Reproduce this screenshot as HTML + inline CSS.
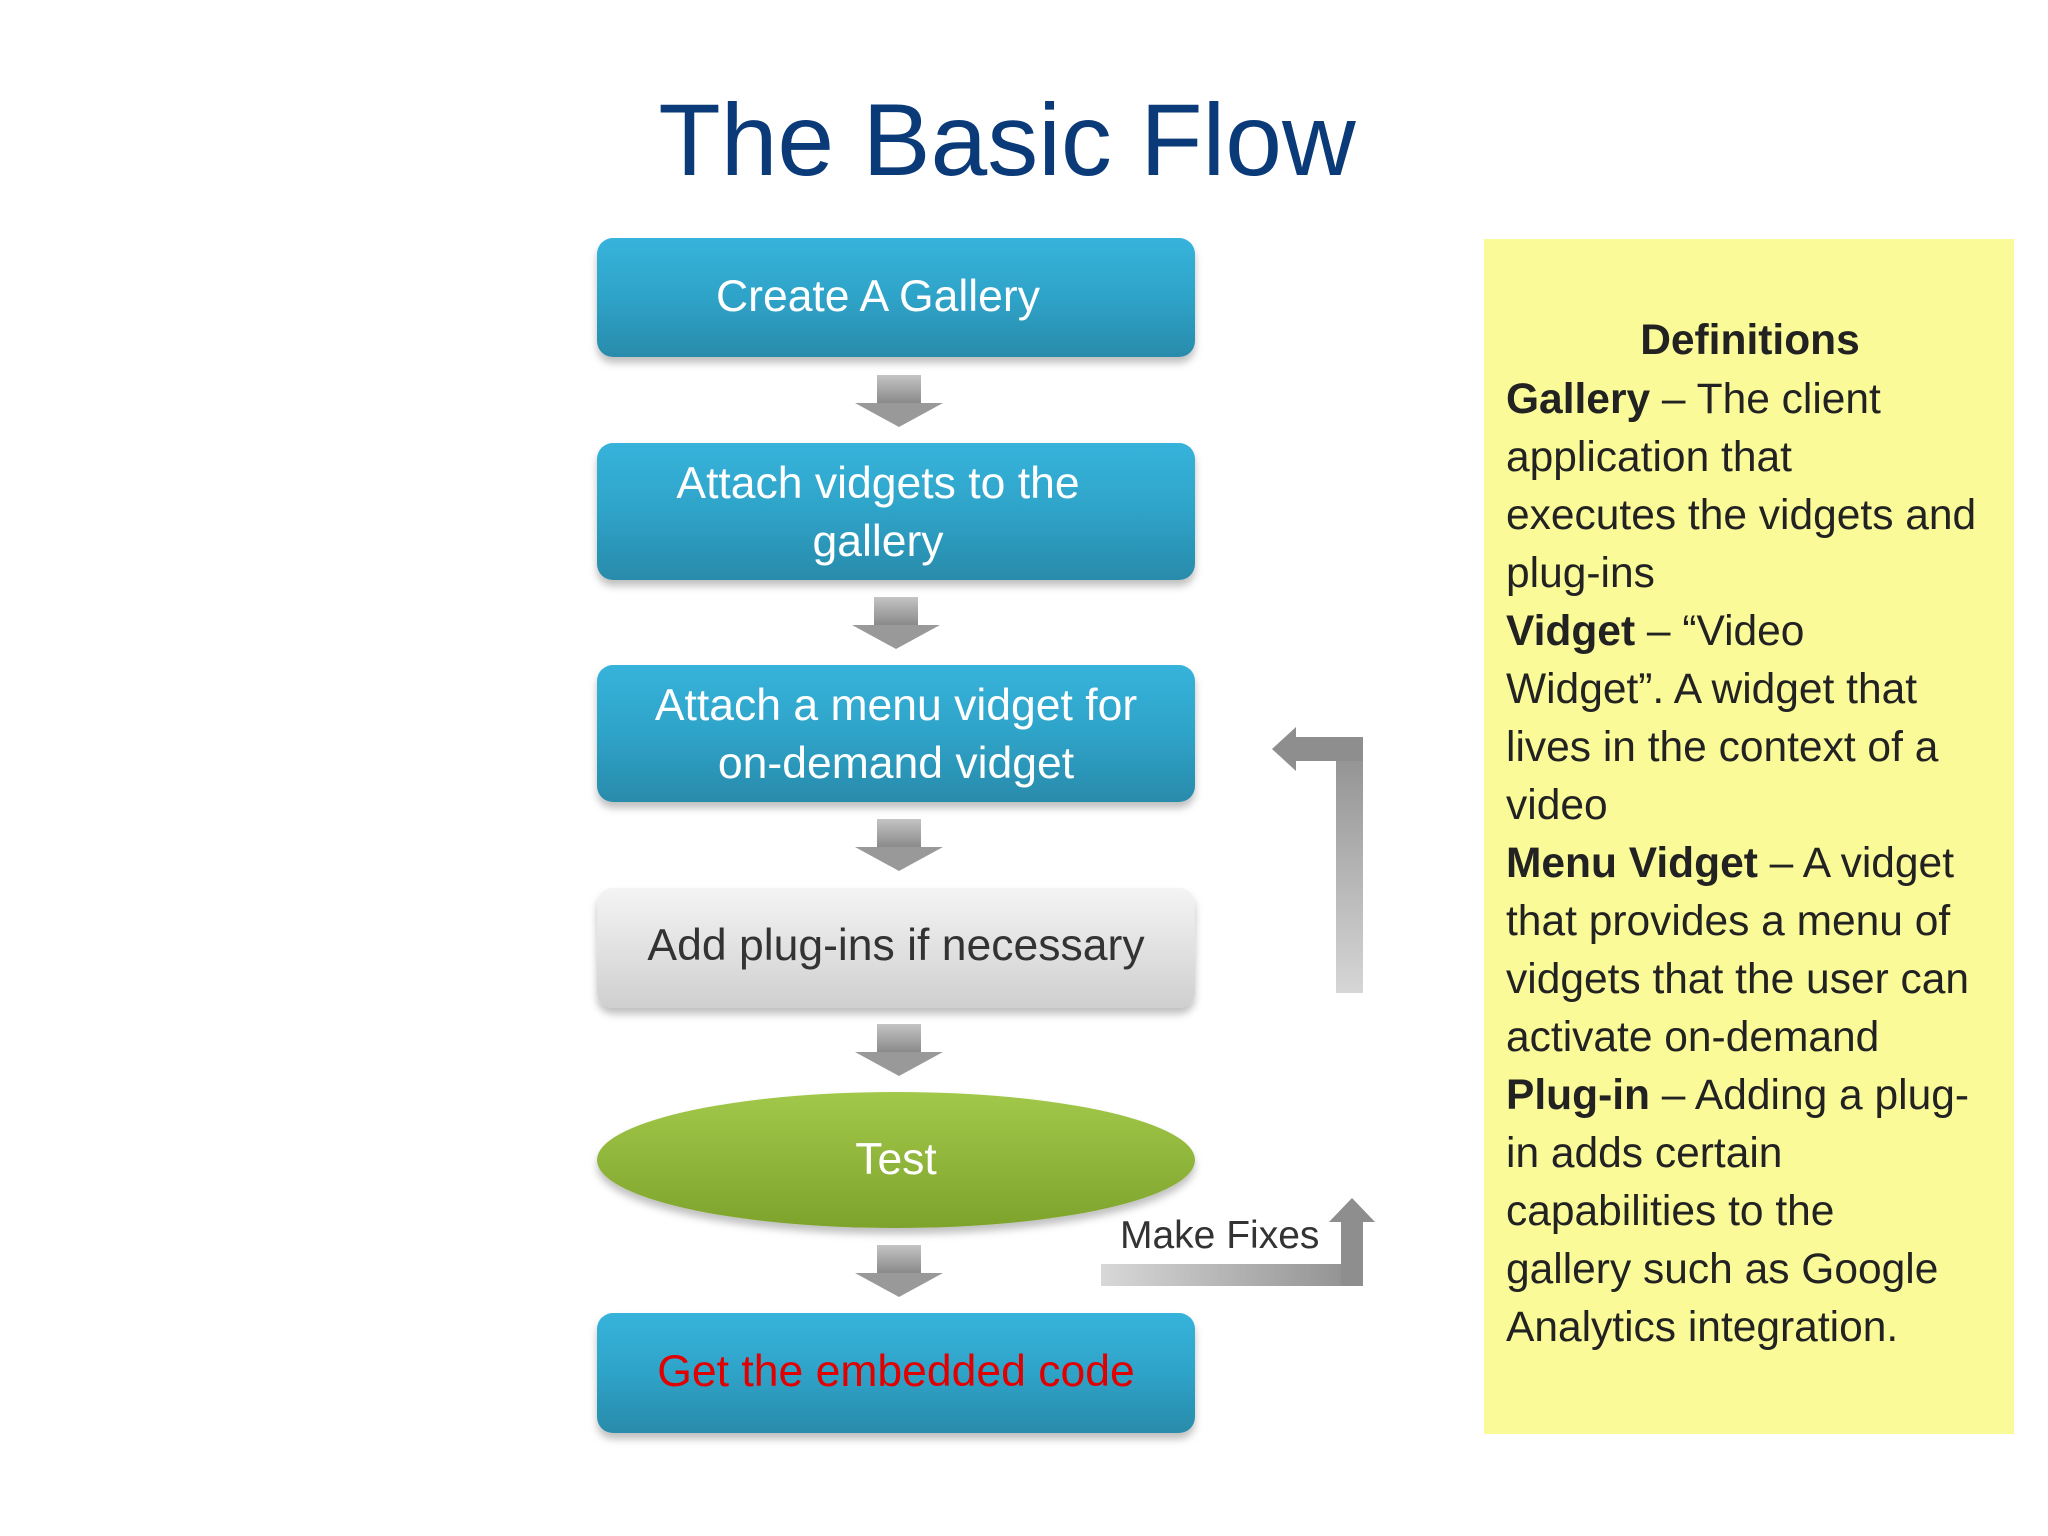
<!DOCTYPE html>
<html><head><meta charset="utf-8"><style>
html,body{margin:0;padding:0;background:#fff}
svg{display:block}
text{font-family:"Liberation Sans",sans-serif}
</style></head><body>
<svg width="2048" height="1536" viewBox="0 0 2048 1536" xmlns="http://www.w3.org/2000/svg">
<defs>
<linearGradient id="bl" x1="0" y1="0" x2="0" y2="1"><stop offset="0" stop-color="#37b3db"/><stop offset="0.5" stop-color="#2ea3c8"/><stop offset="1" stop-color="#2a8bab"/></linearGradient>
<linearGradient id="gr" x1="0" y1="0" x2="0" y2="1"><stop offset="0" stop-color="#f4f4f4"/><stop offset="1" stop-color="#cfcfcf"/></linearGradient>
<linearGradient id="gn" x1="0" y1="0" x2="0" y2="1"><stop offset="0" stop-color="#a2c84a"/><stop offset="1" stop-color="#7ea32c"/></linearGradient>
<linearGradient id="ar" x1="0" y1="0" x2="0" y2="1"><stop offset="0" stop-color="#c4c4c4"/><stop offset="1" stop-color="#8a8a8a"/></linearGradient>
<linearGradient id="vb" x1="0" y1="0" x2="0" y2="1"><stop offset="0" stop-color="#8e8e8e"/><stop offset="1" stop-color="#d6d6d6"/></linearGradient>
<linearGradient id="hb" x1="0" y1="0" x2="1" y2="0"><stop offset="0" stop-color="#d8d8d8"/><stop offset="1" stop-color="#8e8e8e"/></linearGradient>
<filter id="sh" x="-5%" y="-10%" width="110%" height="130%"><feDropShadow dx="0" dy="6" stdDeviation="4" flood-color="#000" flood-opacity="0.25"/></filter>
<g id="dn"><rect x="-22" y="0" width="44" height="28" fill="url(#ar)"/><polygon points="-44,28 44,28 0,52" fill="#999"/></g>
</defs>

<text x="1007" y="175" font-size="102" fill="#0a3a78" text-anchor="middle">The Basic Flow</text>

<rect x="597" y="238" width="598" height="119" rx="16" fill="url(#bl)" filter="url(#sh)"/>
<text x="878" y="311" font-size="44.5" fill="#fff" text-anchor="middle">Create A Gallery</text>

<use href="#dn" x="899" y="375"/>

<rect x="597" y="443" width="598" height="137" rx="16" fill="url(#bl)" filter="url(#sh)"/>
<text x="878" y="498" font-size="44.5" fill="#fff" text-anchor="middle">Attach vidgets to the</text>
<text x="878" y="556" font-size="44.5" fill="#fff" text-anchor="middle">gallery</text>

<use href="#dn" x="896" y="597"/>

<rect x="597" y="665" width="598" height="137" rx="16" fill="url(#bl)" filter="url(#sh)"/>
<text x="896" y="720" font-size="44.5" fill="#fff" text-anchor="middle">Attach a menu vidget for</text>
<text x="896" y="778" font-size="44.5" fill="#fff" text-anchor="middle">on-demand vidget</text>

<use href="#dn" x="899" y="819"/>

<rect x="597" y="888" width="598" height="120" rx="16" fill="url(#gr)" filter="url(#sh)"/>
<text x="896" y="960" font-size="44.5" fill="#333" text-anchor="middle">Add plug-ins if necessary</text>

<use href="#dn" x="899" y="1024"/>

<ellipse cx="896" cy="1160" rx="299" ry="68" fill="url(#gn)" filter="url(#sh)"/>
<text x="896" y="1174" font-size="44.5" fill="#fff" text-anchor="middle">Test</text>

<use href="#dn" x="899" y="1245"/>

<rect x="597" y="1313" width="598" height="120" rx="16" fill="url(#bl)" filter="url(#sh)"/>
<text x="896" y="1386" font-size="44.5" fill="#e00000" text-anchor="middle">Get the embedded code</text>

<rect x="1336" y="737" width="27" height="256" fill="url(#vb)"/>
<rect x="1290" y="737" width="73" height="24" fill="#8e8e8e"/>
<polygon points="1272,749 1296,727 1296,771" fill="#8e8e8e"/>
<rect x="1101" y="1264" width="262" height="22" fill="url(#hb)"/>
<rect x="1341" y="1222" width="22" height="64" fill="#8e8e8e"/>
<polygon points="1352,1198 1329,1222 1375,1222" fill="#8e8e8e"/>
<text x="1120" y="1248" font-size="39" fill="#333">Make Fixes</text>

<rect x="1484" y="239" width="530" height="1195" fill="#fafa98"/>
<g font-size="42.5" fill="#222">
<text x="1750" y="354" text-anchor="middle" font-weight="bold">Definitions</text>
<text x="1506" y="413"><tspan font-weight="bold">Gallery</tspan> – The client</text>
<text x="1506" y="471">application that</text>
<text x="1506" y="529">executes the vidgets and</text>
<text x="1506" y="587">plug-ins</text>
<text x="1506" y="645"><tspan font-weight="bold">Vidget</tspan> – “Video</text>
<text x="1506" y="703">Widget”. A widget that</text>
<text x="1506" y="761">lives in the context of a</text>
<text x="1506" y="819">video</text>
<text x="1506" y="877"><tspan font-weight="bold">Menu Vidget</tspan> – A vidget</text>
<text x="1506" y="935">that provides a menu of</text>
<text x="1506" y="993">vidgets that the user can</text>
<text x="1506" y="1051">activate on-demand</text>
<text x="1506" y="1109"><tspan font-weight="bold">Plug-in</tspan> – Adding a plug-</text>
<text x="1506" y="1167">in adds certain</text>
<text x="1506" y="1225">capabilities to the</text>
<text x="1506" y="1283">gallery such as Google</text>
<text x="1506" y="1341">Analytics integration.</text>
</g>
</svg>
</body></html>
